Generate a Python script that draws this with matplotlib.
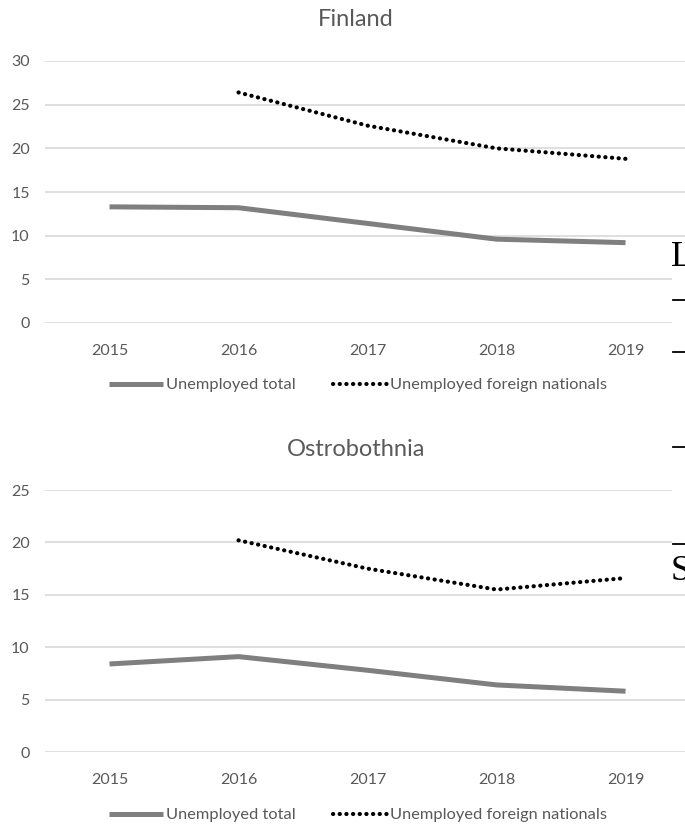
import numpy as np
import matplotlib
matplotlib.use("Agg")
import matplotlib.pyplot as plt
from matplotlib.patches import Rectangle

years = ["2015", "2016", "2017", "2018", "2019"]

finland_total = [13.3, 13.2, 11.4, 9.6, 9.2]
finland_foreign = [np.nan, 26.4, 22.6, 20.0, 18.8]

ostro_total = [8.4, 9.1, 7.8, 6.4, 5.8]
ostro_foreign = [np.nan, 20.2, 17.5, 15.5, 16.6]

W, H = 685, 826
plt.rcParams['font.family'] = ['Lato', 'DejaVu Sans']
text_col = "#595959"
grid_col = "#d9d9d9"

fig = plt.figure(figsize=(W / 100, H / 100), dpi=100)


def fx(px):
    return px / W


def fy(py):
    return 1 - py / H


def draw_panel(top_px, bottom_px, ymax, total, foreign, title, title_y, legend_y):
    ax = fig.add_axes([fx(45), fy(bottom_px), fx(690) - fx(45), fy(top_px) - fy(bottom_px)])
    x = np.arange(len(years))
    ax.plot(x, total, color="#7f7f7f", lw=3.6, solid_capstyle="butt",
            label="Unemployed total", zorder=3)
    ax.plot(x, foreign, color="black", lw=3.0, linestyle=(0, (0.05, 1.55)),
            dash_capstyle="round", label="Unemployed foreign nationals", zorder=3)
    ax.set_xlim(-0.5, len(years) - 0.5)
    ax.set_ylim(0, ymax)
    ax.set_yticks(np.arange(0, ymax + 1, 5))
    ax.set_xticks(x)
    ax.set_xticklabels(years)
    ax.yaxis.grid(True, color=grid_col, lw=1.2)
    ax.set_axisbelow(True)
    for s in ax.spines.values():
        s.set_visible(False)
    ax.tick_params(axis="both", length=0, labelsize=11.5, labelcolor=text_col)
    ax.tick_params(axis="y", pad=11)
    ax.tick_params(axis="x", pad=15)
    fig.text(fx(356), fy(title_y), title, ha="center", va="center",
             fontsize=17, color=text_col)
    leg = ax.legend(loc="center", bbox_to_anchor=(fx(358), fy(legend_y)),
                    bbox_transform=fig.transFigure, ncol=2, frameon=False,
                    fontsize=11.8, handlelength=3.3, handletextpad=0.15,
                    columnspacing=2.3)
    for t in leg.get_texts():
        t.set_color(text_col)
    return ax


draw_panel(61, 323, 30, finland_total, finland_foreign, "Finland", 20, 385)
draw_panel(490, 752, 25, ostro_total, ostro_foreign, "Ostrobothnia", 450, 815)

# page edge from the neighbouring column
fig.patches.append(Rectangle((fx(672), fy(562)), 1 - fx(672), fy(240) - fy(562),
                             transform=fig.transFigure, facecolor="white",
                             edgecolor="none", zorder=5))
for py in [300, 352, 447, 544]:
    fig.add_artist(plt.Line2D([fx(673), 1], [fy(py), fy(py)], color="black",
                              lw=1.3, transform=fig.transFigure, zorder=6))
fig.text(fx(671), fy(258), "L", ha="left", va="center", fontsize=26,
         family="Liberation Serif", color="black", zorder=6)
fig.text(fx(671), fy(572), "S", ha="left", va="center", fontsize=26,
         family="Liberation Serif", color="black", zorder=6)

fig.savefig("out.png", dpi=100, facecolor="white")
